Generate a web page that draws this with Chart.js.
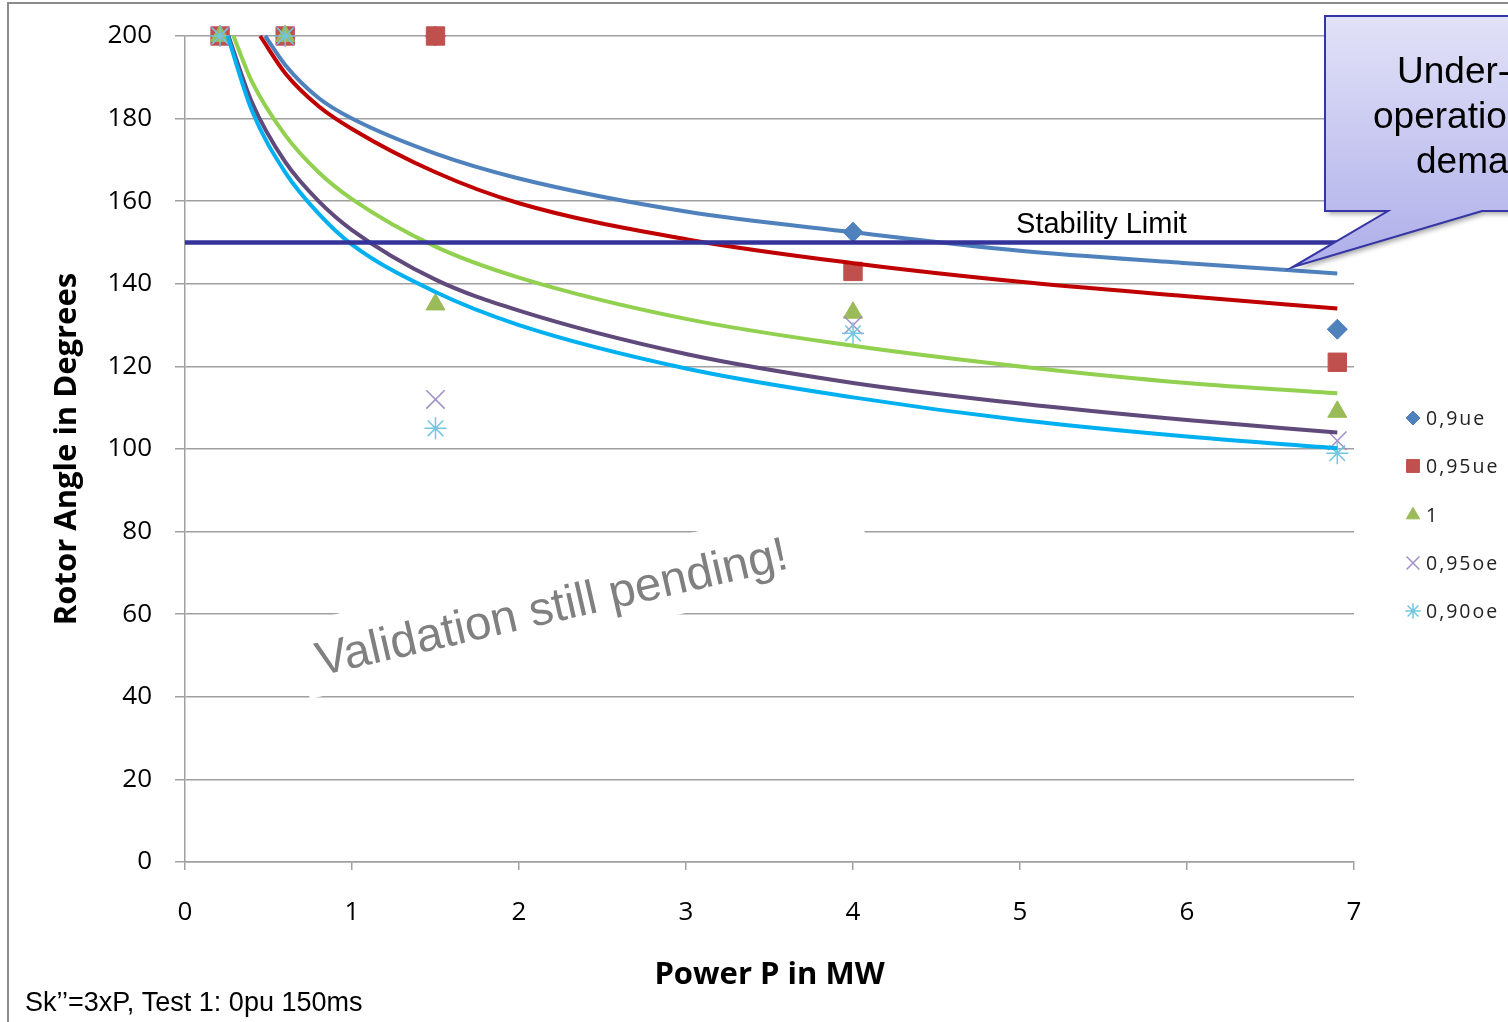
<!DOCTYPE html>
<html>
<head>
<meta charset="utf-8">
<script src="https://cdn.jsdelivr.net/npm/chart.js@4.4.1/dist/chart.umd.min.js"></script>
<style>
  html, body { margin: 0; padding: 0; background: #fff; }
  #wrap { width: 1508px; height: 1022px; overflow: hidden; }
  canvas { display: block; }
</style>
</head>
<body>
<div id="wrap"><canvas id="chart" width="1508" height="1022"></canvas></div>
<script>
// measured points (power in MW)
const measX = [0.21, 0.6, 1.5, 4, 6.9];
const ue090 = [200, 200, 200, 152.5, 129];
const ue095 = [200, 200, 200, 143, 121];
const pf100 = [200, 200, 135, 133, 109];
const oe095 = [200, 200, 112, 130, 102];
const oe090 = [200, 200, 105, 128, 99];

// trend lines
const trendUe090X = [0.48, 0.6, 0.8, 1, 1.5, 2, 3, 4, 5, 6, 6.9];
const trendUe090Y = [200, 193, 185, 180, 171.5, 165.5, 157.5, 152.5, 148, 145, 142.5];
const trendUe095X = [0.45, 0.6, 0.8, 1, 1.5, 2, 3, 4, 5, 6, 6.9];
const trendUe095Y = [200, 191, 183, 177.5, 167, 159.5, 150.8, 145, 140.5, 137, 134];
const trendPf100X = [0.29, 0.4, 0.6, 0.8, 1, 1.5, 2, 3, 4, 5, 6, 6.9];
const trendPf100Y = [200, 189, 176, 167, 160.5, 149, 141.5, 131.5, 125, 120, 116, 113.5];
const trendOe095X = [0.26, 0.4, 0.6, 0.8, 1, 1.5, 2, 3, 4, 5, 6, 6.9];
const trendOe095Y = [200, 184, 169.5, 160, 153, 141, 133.5, 123, 116, 111, 107, 104];
const trendOe090X = [0.255, 0.4, 0.6, 0.8, 1, 1.5, 2, 3, 4, 5, 6, 6.9];
const trendOe090Y = [200, 182, 167, 157, 149.5, 138, 130, 119.5, 112.5, 107, 103, 100.2];

const stabilityX = [0, 6.95];
const stabilityY = [150, 150];

const xTicks = [0, 1, 2, 3, 4, 5, 6, 7];
const yTicks = [0, 20, 40, 60, 80, 100, 120, 140, 160, 180, 200];

const legendNames = ['0,9ue', '0,95ue', '1', '0,95oe', '0,90oe'];

const pts = (xs, ys) => xs.map((v, i) => ({ x: v, y: ys[i] }));

const marker = (label, data, style, color, radius, order, bw) => ({
    label, data: pts(measX, data), showLine: false,
    pointStyle: style, pointRadius: radius, pointHoverRadius: radius,
    backgroundColor: color, borderColor: color, pointBorderWidth: bw || 1,
    order, clip: false
});

const trend = (xs, ys, color, order) => ({
    data: pts(xs, ys), showLine: true, pointRadius: 0, borderColor: color,
    borderWidth: 4, cubicInterpolationMode: 'monotone', order, clip: false
});

const markerSets = [
    marker(legendNames[0], ue090, 'rectRot', '#4f81bd', 10, 9),
    marker(legendNames[1], ue095, 'rect', '#c0504d', 13, 8),
    marker(legendNames[2], pf100, 'triangle', '#9bbb59', 11, 7),
    marker(legendNames[3], oe095, 'crossRot', '#a08ec8', 13, 6, 1.5),
    marker(legendNames[4], oe090, 'star', '#72c6e0', 11, 5, 1.5)
];

const overlay = {
    id: 'overlay',
    beforeDraw(chart) {
        const ctx = chart.ctx;
        ctx.save();
        ctx.fillStyle = '#fff';
        ctx.fillRect(0, 0, chart.width, chart.height);
        ctx.restore();
    },
    afterDraw(chart) {
        const { ctx, scales: { x, y } } = chart;
        const deg = Math.PI / 180;
        ctx.save();

        // chart frame
        ctx.strokeStyle = '#8c8c8c';
        ctx.lineWidth = 2;
        ctx.beginPath();
        ctx.moveTo(8, 1022); ctx.lineTo(8, 3); ctx.lineTo(1508, 3);
        ctx.stroke();

        // stability label
        ctx.fillStyle = '#000';
        ctx.font = '29px "Liberation Sans"';
        ctx.textAlign = 'center';
        ctx.textBaseline = 'alphabetic';
        ctx.fillText('Stability Limit', x.getPixelForValue(5.5) - 2, y.getPixelForValue(150) - 10);

        // watermark box + text
        ctx.save();
        ctx.translate(583, 597);
        ctx.rotate(-12.9 * deg);
        ctx.fillStyle = '#fff';
        ctx.fillRect(-289, -38.5, 578, 77);
        ctx.restore();
        ctx.save();
        ctx.translate(555, 622);
        ctx.rotate(-12.9 * deg);
        ctx.fillStyle = '#808080';
        ctx.font = '47.5px "Liberation Sans"';
        ctx.textAlign = 'center';
        ctx.fillText('Validation still pending!', 0, 0);
        ctx.restore();

        // callout
        const tipX = x.getPixelForValue(6.63), tipY = y.getPixelForValue(144);
        ctx.save();
        const g = ctx.createLinearGradient(0, 16, 0, tipY);
        g.addColorStop(0, '#e2e2f8');
        g.addColorStop(1, '#aeaeea');
        ctx.beginPath();
        ctx.moveTo(1325, 16); ctx.lineTo(1530, 16); ctx.lineTo(1530, 211);
        ctx.lineTo(1482, 211); ctx.lineTo(tipX, tipY); ctx.lineTo(1388, 211);
        ctx.lineTo(1325, 211); ctx.closePath();
        ctx.shadowColor = 'rgba(0,0,0,0.35)';
        ctx.shadowBlur = 5; ctx.shadowOffsetX = 3; ctx.shadowOffsetY = 3;
        ctx.fillStyle = g;
        ctx.fill();
        ctx.shadowColor = 'transparent';
        ctx.strokeStyle = '#3535a5';
        ctx.lineWidth = 2;
        ctx.stroke();
        ctx.fillStyle = '#000';
        ctx.font = '37px "Liberation Sans"';
        ctx.textAlign = 'left';
        ctx.fillText('Under-excited', 1397, 83);
        ctx.fillText('operation in', 1373, 128);
        ctx.fillText('demand', 1416, 173);
        ctx.restore();

        // legend
        const ly = [418, 466, 515, 563, 611];
        ctx.font = '19.5px "Open Sans"';
        ctx.letterSpacing = '2px';
        ctx.textAlign = 'left';
        ctx.textBaseline = 'middle';
        markerSets.forEach((ds, i) => {
            ctx.fillStyle = ds.backgroundColor;
            ctx.strokeStyle = ds.borderColor;
            ctx.lineWidth = ds.pointBorderWidth;
            Chart.helpers.drawPoint(ctx, {
                pointStyle: ds.pointStyle, radius: ds.pointRadius * 0.7,
                rotation: 0, borderWidth: ds.pointBorderWidth
            }, 1413, ly[i]);
            ctx.fillStyle = '#222';
            ctx.fillText(ds.label, 1426, ly[i] + 1);
        });
        ctx.letterSpacing = '0px';

        // footnote
        ctx.fillStyle = '#000';
        ctx.font = '27px "Liberation Sans"';
        ctx.textAlign = 'left';
        ctx.textBaseline = 'alphabetic';
        ctx.fillText('Sk\u2019\u2019=3xP, Test 1: 0pu 150ms', 25, 1011);
        ctx.restore();
    }
};

const gridGray = '#a0a0a0';

new Chart(document.getElementById('chart'), {
    type: 'scatter',
    data: {
        datasets: [
            ...markerSets,
            trend(trendUe090X, trendUe090Y, '#4f81bd', 4),
            trend(trendUe095X, trendUe095Y, '#c00000', 3),
            trend(trendPf100X, trendPf100Y, '#92d050', 2),
            trend(trendOe095X, trendOe095Y, '#604a7b', 1.5),
            trend(trendOe090X, trendOe090Y, '#00b0f0', 1),
            {
                data: pts(stabilityX, stabilityY), showLine: true, pointRadius: 0,
                borderColor: '#333399', borderWidth: 4.5, order: 0, clip: false
            }
        ]
    },
    options: {
        responsive: false,
        devicePixelRatio: 1,
        animation: false,
        events: [],
        layout: { padding: { top: 36, right: 154, bottom: 0, left: 0 } },
        plugins: { legend: { display: false }, tooltip: { enabled: false } },
        scales: {
            x: {
                type: 'linear', min: 0, max: 7,
                afterBuildTicks: s => { s.ticks = xTicks.map(v => ({ value: v })); },
                afterFit: s => { s.height = 160; s.paddingLeft = 0; s.paddingRight = 0; },
                grid: { drawOnChartArea: false, drawTicks: true, tickLength: 8, color: gridGray, lineWidth: 1.5 },
                border: { display: true, color: gridGray, width: 1.5 },
                ticks: { font: { family: 'Open Sans', size: 26 }, color: '#000', padding: 27, maxRotation: 0 },
                title: {
                    display: true, text: 'Power P in MW', color: '#000',
                    font: { family: 'Open Sans', size: 31, weight: 'bold' },
                    padding: { top: 0, bottom: 28 }
                }
            },
            y: {
                type: 'linear', min: 0, max: 200,
                afterBuildTicks: s => { s.ticks = yTicks.map(v => ({ value: v })); },
                afterFit: s => { s.width = 185; s.paddingTop = 0; s.paddingBottom = 0; },
                grid: { color: gridGray, lineWidth: 1.5, tickLength: 10 },
                border: { display: true, color: gridGray, width: 1.5 },
                ticks: { font: { family: 'Open Sans', size: 26 }, color: '#000', padding: 23 },
                title: {
                    display: true, text: 'Rotor Angle in Degrees', color: '#000',
                    font: { family: 'Open Sans', size: 31, weight: 'bold' },
                    padding: { top: 49, bottom: 0 }
                }
            }
        }
    },
    plugins: [overlay]
});
</script>
</body>
</html>
